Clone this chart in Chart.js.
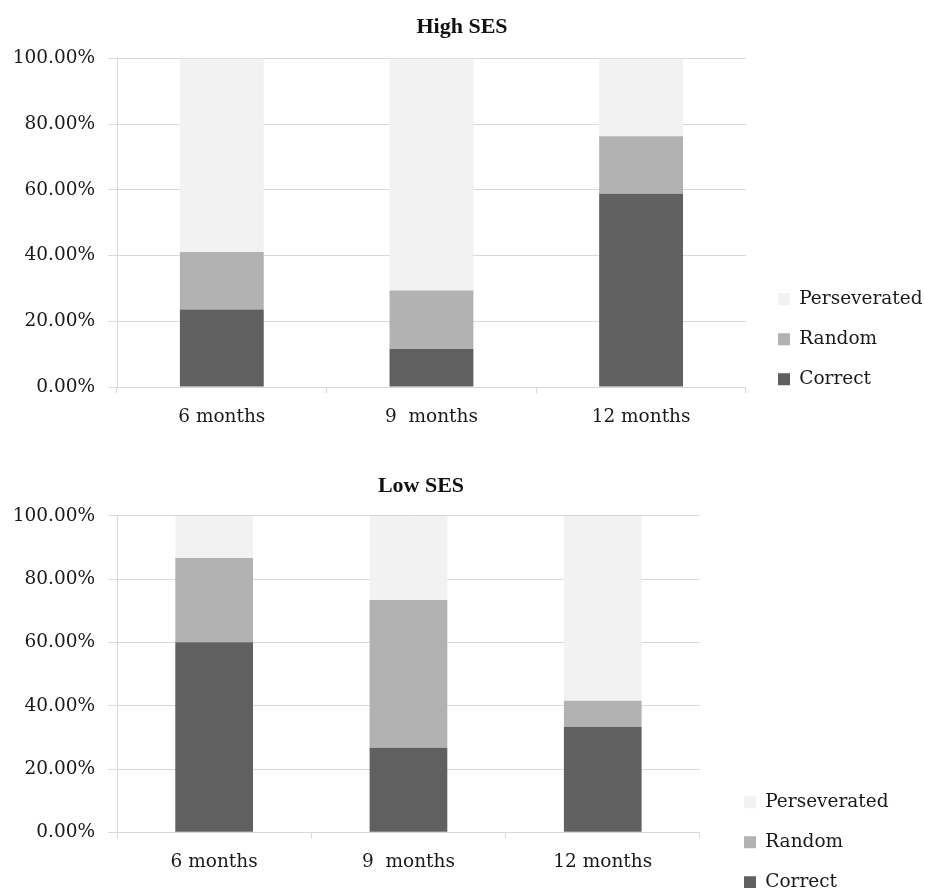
<!DOCTYPE html>
<html>
<head>
<meta charset="utf-8">
<script src="https://cdn.jsdelivr.net/npm/chart.js@4.4.1/dist/chart.umd.min.js"></script>
<style>
    body { margin: 0; background: #fff; overflow: hidden; width: 925px; height: 888px; }
    .box { position: absolute; left: 0; }
</style>
</head>
<body>
<div class="box" style="top:0"><canvas id="HighChart" width="925" height="440"></canvas></div>
<div class="box" style="top:440px"><canvas id="LowChart" width="925" height="471"></canvas></div>

<script>
// data
const months = ['6 months', '9  months', '12 months'];
const seriesNames = ['Correct', 'Random', 'Perseverated'];
const seriesColors = ['#606060', '#b2b2b2', '#f2f2f2'];
const yTicks = [0, 20, 40, 60, 80, 100];

const highCorrect = [23.6, 11.6, 58.8];
const highRandom = [17.5, 17.8, 17.5];
const highPersev = [58.9, 70.6, 23.7];

const lowCorrect = [60.1, 26.7, 33.3];
const lowRandom = [26.6, 46.7, 8.3];
const lowPersev = [13.3, 26.6, 58.4];

const serif = 'DejaVu Serif';
const textColor = '#1a1a1a';
const gridColor = '#d9d9d9';

// small plugin to move title / legend where excel put them
function nudge(titleDx, legendBoxX, legendDy) {
    return {
        id: 'nudge',
        afterLayout(chart) {
            chart.titleBlock.left += titleDx;
            chart.titleBlock.right += titleDx;
            const lg = chart.legend;
            const dx = legendBoxX - (lg.left + lg.options.labels.padding);
            lg.left += dx;
            lg.right += dx;
            lg.top += legendDy;
            lg.bottom += legendDy;
        }
    };
}

function stackedChart(id, title, values, cfg) {
    const ctx = document.getElementById(id);
    return new Chart(ctx, {
        type: 'bar',
        data: {
            labels: months,
            datasets: values.map((v, i) => ({
                label: seriesNames[i],
                data: v,
                backgroundColor: seriesColors[i],
                borderWidth: 0,
                categoryPercentage: 1,
                barPercentage: 0.4
            }))
        },
        options: {
            responsive: false,
            animation: false,
            layout: { padding: { top: 0, left: 0, right: cfg.padRight, bottom: 0 } },
            plugins: {
                title: {
                    display: true,
                    text: title,
                    color: '#111',
                    font: { family: 'Liberation Serif', size: 22, weight: 'bold' },
                    padding: { top: cfg.titleTop, bottom: cfg.titleBottom }
                },
                legend: {
                    position: 'right',
                    align: 'end',
                    reverse: true,
                    labels: {
                        boxWidth: 12,
                        boxHeight: 12,
                        padding: 21.5,
                        color: textColor,
                        font: { family: serif, size: 18.5 }
                    }
                },
                tooltip: { enabled: false }
            },
            scales: {
                x: {
                    stacked: true,
                    grid: { offset: true, drawOnChartArea: false, drawTicks: true, tickLength: 6, color: gridColor },
                    border: { color: gridColor },
                    ticks: { color: textColor, padding: 13, font: { family: serif, size: 18.5 } },
                    afterFit: (s) => { s.height = cfg.xHeight; }
                },
                y: {
                    stacked: true,
                    min: 0,
                    max: 100,
                    afterBuildTicks: (s) => { s.ticks = yTicks.map(v => ({ value: v })); },
                    grid: { color: gridColor, tickLength: 9 },
                    border: { color: gridColor },
                    ticks: {
                        color: textColor,
                        padding: 13,
                        font: { family: serif, size: 18.5 },
                        callback: (v) => v.toFixed(2) + '%'
                    },
                    afterFit: (s) => { s.width = 117; }
                }
            }
        },
        plugins: [nudge(cfg.titleDx, cfg.legendX, cfg.legendDy)]
    });
}

stackedChart('HighChart', 'High SES', [highCorrect, highRandom, highPersev], {
    padRight: 3, titleTop: 14, titleBottom: 18, xHeight: 53, titleDx: 1, legendX: 778, legendDy: -30
});

stackedChart('LowChart', 'Low SES', [lowCorrect, lowRandom, lowPersev], {
    padRight: 49, titleTop: 33.5, titleBottom: 16, xHeight: 78.7, titleDx: -17, legendX: 744, legendDy: 2
});
</script>
</body>
</html>
